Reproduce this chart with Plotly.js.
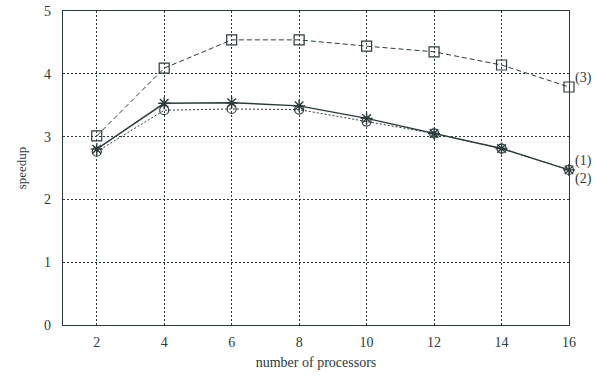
<!DOCTYPE html>
<html>
<head>
<meta charset="utf-8">
<script src="https://cdn.plot.ly/plotly-3.0.1.min.js"></script>
<style>html,body{margin:0;padding:0;background:#fff;}#chart{width:600px;height:379px;}</style>
</head>
<body>
<div id="chart"></div>
<script>
const processors = [2, 4, 6, 8, 10, 12, 14, 16];
const series1 = [2.80, 3.53, 3.54, 3.49, 3.29, 3.05, 2.81, 2.47];
const series2 = [2.76, 3.42, 3.44, 3.43, 3.24, 3.05, 2.81, 2.47];
const series3 = [3.01, 4.09, 4.54, 4.54, 4.44, 4.35, 4.14, 3.79];
const seriesLabels = ['(1)', '(2)', '(3)'];
const xTicks = [2, 4, 6, 8, 10, 12, 14, 16];
const yTicks = [0, 1, 2, 3, 4, 5];

const ink = '#2b3b3b';
const font = 'Liberation Serif, DejaVu Serif, serif';

const traces = [
  {x: processors, y: series3, mode: 'lines+markers', cliponaxis: false, line: {color: ink, width: 1, dash: '5px,3px'},
   marker: {symbol: 'square-open', size: 10, color: ink, line: {width: 1.2}}},
  {x: processors, y: series2, mode: 'lines+markers', cliponaxis: false, line: {color: ink, width: 1, dash: '2px,2px'},
   marker: {symbol: 'circle-open', size: 9, color: ink, line: {width: 1.2}}},
  {x: processors, y: series1, mode: 'lines+markers', cliponaxis: false, line: {color: ink, width: 1.4},
   marker: {symbol: 'asterisk-open', size: 10, color: ink, line: {width: 1.4, color: ink}}}
];

const last = processors.length - 1;
const annotations = [
  {x: processors[last], y: series1[last], text: seriesLabels[0], yshift: 9},
  {x: processors[last], y: series2[last], text: seriesLabels[1], yshift: -9},
  {x: processors[last], y: series3[last], text: seriesLabels[2], yshift: 9}
].map(a => Object.assign(a, {xref: 'x', yref: 'y', showarrow: false, xanchor: 'left', xshift: 4,
  font: {family: font, size: 14, color: ink}}));

const layout = {
  width: 600, height: 379,
  margin: {l: 63, r: 31, t: 11, b: 54},
  paper_bgcolor: '#fff', plot_bgcolor: '#fff',
  showlegend: false,
  font: {family: font, color: ink, size: 14},
  xaxis: {range: [1, 16], tickvals: xTicks, ticktext: xTicks.map(String),
    showgrid: true, gridcolor: ink, griddash: '2px,2px', gridwidth: 1,
    showline: true, linecolor: ink, linewidth: 1.3, mirror: true, zeroline: false,
    ticks: '', ticklabelstandoff: 4,
    title: {text: 'number of processors', font: {family: font, size: 14, color: ink}, standoff: 8}},
  yaxis: {range: [0, 5], tickvals: yTicks, ticktext: yTicks.map(String),
    showgrid: true, gridcolor: ink, griddash: '2px,2px', gridwidth: 1,
    showline: true, linecolor: ink, linewidth: 1.3, mirror: true, zeroline: false,
    ticks: '', ticklabelstandoff: 8,
    title: {text: 'speedup', font: {family: font, size: 13, color: ink}, standoff: 14}},
  annotations: annotations
};

Plotly.newPlot('chart', traces, layout, {displayModeBar: false, staticPlot: true});
</script>
</body>
</html>
